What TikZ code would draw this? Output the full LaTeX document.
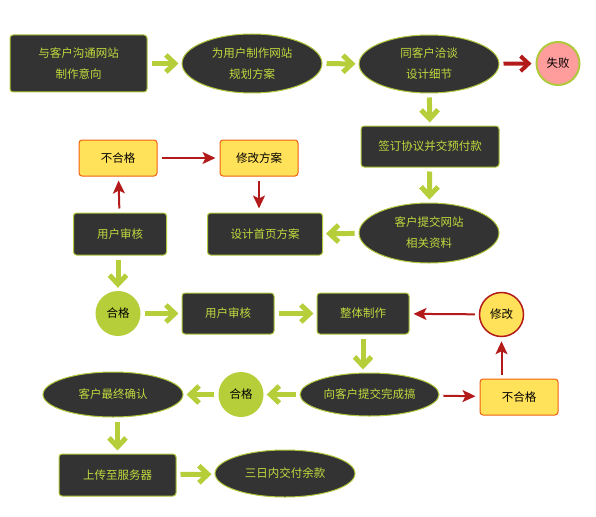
\documentclass[tikz,border=0pt]{standalone}
\usepackage{fontspec}
\setmainfont{Noto Sans CJK SC}
\usetikzlibrary{arrows.meta,shapes.geometric}
\definecolor{dark}{HTML}{333333}
\definecolor{txtg}{HTML}{C2DA3E}
\definecolor{bord}{HTML}{AFC83C}
\definecolor{garr}{HTML}{B5CE3A}
\definecolor{rarr}{HTML}{B31B1B}
\definecolor{yel}{HTML}{FFE15A}
\definecolor{yelb}{HTML}{F0600F}
\definecolor{pinkf}{HTML}{FF9C9C}
\tikzset{
  cn/.style={font=\fontsize{11.5}{21}\selectfont},
  darkbox/.style={cn, draw=bord, fill=dark, rounded corners=3pt, text=txtg, line width=1pt, inner sep=0pt, align=center},
  darkell/.style={cn, ellipse, draw=bord, fill=dark, text=txtg, line width=1pt, inner sep=0pt, align=center},
  yelbox/.style={cn, draw=yelb, fill=yel, rounded corners=3pt, text=black, line width=1pt, inner sep=0pt, minimum width=78pt, minimum height=36pt},
  okcirc/.style={cn, circle, fill=garr, text=black, inner sep=0pt, minimum size=45pt},
  garrow/.style={draw=garr, line width=5pt, -{Straight Barb[length=9pt,width=17pt]}, shorten <=4pt, shorten >=3pt},
  rthick/.style={draw=rarr, line width=4pt, -{Straight Barb[length=8pt,width=15pt]}, shorten <=4pt, shorten >=4pt},
  rarrow/.style={draw=rarr, line width=2pt, -{Stealth[length=13pt,width=12pt,inset=3pt]}, shorten <=4pt, shorten >=4pt},
}
\begin{document}
\begin{tikzpicture}[x=1pt,y=-1pt]
\useasboundingbox (0,0) rectangle (596,516);

\node[darkbox, minimum width=137pt, minimum height=57pt] (n1) at (78.5,63.5) {与客户沟通网站\\制作意向};
\node[darkell, minimum width=140pt, minimum height=59pt] (n2) at (252,63.5) {为用户制作网站\\规划方案};
\node[darkell, minimum width=140pt, minimum height=58pt] (n3) at (429,64) {同客户洽谈\\设计细节};
\node[cn, circle, draw=bord, line width=2pt, fill=pinkf, text=black, inner sep=0pt, minimum size=43pt] (n4) at (558,63.5) {失败};
\node[darkbox, minimum width=138pt, minimum height=41pt] (n5) at (430,146.5) {签订协议并交预付款};
\node[darkell, minimum width=140pt, minimum height=60pt] (n6) at (429,233) {客户提交网站\\相关资料};
\node[darkbox, minimum width=115pt, minimum height=42pt] (n7) at (265,234) {设计首页方案};
\node[darkbox, minimum width=93pt, minimum height=42pt] (n8) at (120,234) {用户审核};
\node[yelbox] (n9) at (118,158) {不合格};
\node[yelbox] (n10) at (259,158) {修改方案};
\node[okcirc] (n11) at (118,313.5) {合格};
\node[darkbox, minimum width=92pt, minimum height=41pt] (n12) at (228,313.5) {用户审核};
\node[darkbox, minimum width=92pt, minimum height=41pt] (n13) at (363,313.5) {整体制作};
\node[cn, circle, draw=rarr, line width=1.5pt, fill=yel, text=black, inner sep=0pt, minimum size=44pt] (n14) at (501.5,314.5) {修改};
\node[yelbox] (n15) at (519,397) {不合格};
\node[darkell, minimum width=139pt, minimum height=43pt] (n16) at (369.5,394.5) {向客户提交完成搞};
\node[okcirc] (n17) at (241,394.5) {合格};
\node[darkell, minimum width=140pt, minimum height=45pt] (n18) at (113,394.5) {客户最终确认};
\node[darkbox, minimum width=117pt, minimum height=42pt] (n19) at (117.5,475) {上传至服务器};
\node[darkell, minimum width=140pt, minimum height=47pt] (n20) at (285,473.5) {三日内交付余款};

\draw[garrow] (n1) -- (n2);
\draw[garrow] (n2) -- (n3);
\draw[rthick] (n3) -- (n4);
\draw[garrow] (n3) -- (n5);
\draw[garrow] (n5) -- (n6);
\draw[garrow] (n6) -- (n7);
\draw[rarrow] (n8) -- (n9);
\draw[rarrow] (n9) -- (n10);
\draw[rarrow] (n10) -- (n10 |- n7.north);
\draw[garrow] (n8.south -| n11) -- (n11);
\draw[garrow] (n11) -- (n12);
\draw[garrow] (n12) -- (n13);
\draw[garrow] (n13) -- (n13 |- n16.north);
\draw[rarrow] (n16) -- (n15);
\draw[rarrow] (n15.north -| n14) -- (n14);
\draw[rarrow] (n14) -- (n13);
\draw[garrow] (n16) -- (n17);
\draw[garrow] (n17) -- (n18);
\draw[garrow] (n18.south -| n19) -- (n19);
\draw[garrow] (n19) -- (n20);
\end{tikzpicture}
\end{document}
